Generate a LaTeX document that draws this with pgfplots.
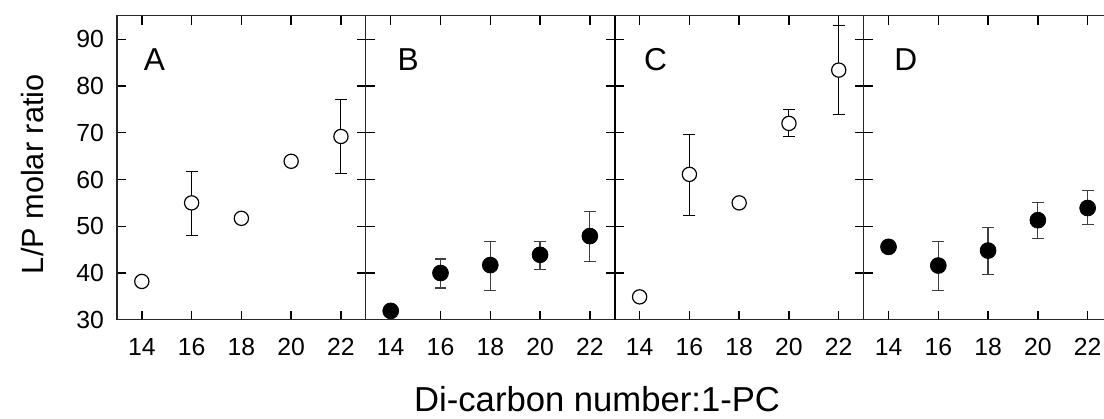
\documentclass[border=0pt]{standalone}
\usepackage{pgfplots}
\pgfplotsset{compat=1.18}
\usepackage{fontspec}
\setmainfont{Liberation Sans}
\begin{document}
\pgfplotsset{
  panel/.style={
    scale only axis, width=125.7pt, height=153.5pt,
    anchor=south west,
    xmin=13, xmax=23, ymin=30, ymax=95,
    xtick={14,16,18,20,22}, ytick={30,40,50,60,70,80,90},
    tick align=inside, major tick length=4.5pt,
    tick style={black, line width=0.7pt},
    axis line style={black!85, line width=0.6pt},
    /pgf/number format/assume math mode=true,
    tick label style={font=\fontsize{12.5}{14}\selectfont},
    xticklabel style={yshift=-5.7pt},
    yticklabel style={xshift=-3pt},
    clip=false,
  },
  openpts/.style={only marks, mark=*, mark size=3.6pt,
    mark options={fill=white, draw=black, line width=0.6pt},
    error bars/.cd, y dir=both, y explicit,
    error bar style={black, line width=0.5pt},
    error mark options={rotate=90, mark size=3pt, black, line width=0.5pt}},
  fillpts/.style={only marks, mark=*, mark size=4pt,
    mark options={fill=black, draw=black},
    error bars/.cd, y dir=both, y explicit,
    error bar style={black!75, line width=0.6pt},
    error mark options={rotate=90, mark size=3pt, black!75, line width=0.6pt}},
}
\newcommand{\panellabel}[2]{\node[anchor=base west, font=\fontsize{16}{18}\selectfont] at (rel axis cs:#1,0.821) {#2};}
\begin{tikzpicture}
\useasboundingbox (0,0) rectangle (552pt,211.5pt);
% Panel A
\begin{axis}[panel, at={(53.5pt,50pt)}]
\addplot+[openpts] coordinates {
(14,38.2) += (0,0) -= (0,0)
(16,55.0) += (0,6.7) -= (0,6.9)
(18,51.7) += (0,0) -= (0,0)
(20,63.9) += (0,0) -= (0,0)
(22,69.2) += (0,7.9) -= (0,7.9)
};
\panellabel{0.08}{A}
\end{axis}
% Panel B
\begin{axis}[panel, at={(179.2pt,50pt)}, yticklabels={}]
\addplot+[fillpts] coordinates {
(14,31.9) += (0,0) -= (0,0)
(16,40.0) += (0,3.0) -= (0,3.2)
(18,41.7) += (0,5.0) -= (0,5.4)
(20,43.9) += (0,2.8) -= (0,3.1)
(22,47.9) += (0,5.3) -= (0,5.4)
};
\panellabel{0.1}{B}
\end{axis}
% Panel C
\begin{axis}[panel, at={(304.9pt,50pt)}, yticklabels={}]
\addplot+[openpts] coordinates {
(14,34.9) += (0,0) -= (0,0)
(16,61.1) += (0,8.6) -= (0,8.9)
(18,55.0) += (0,0) -= (0,0)
(20,72.0) += (0,2.9) -= (0,2.8)
(22,83.4) += (0,9.5) -= (0,9.6)
};
\draw[black, line width=1.1pt] (rel axis cs:0,0) -- (rel axis cs:0,1);
\panellabel{0.09}{C}
\end{axis}
% Panel D
\begin{axis}[panel, at={(430.6pt,50pt)}, yticklabels={}]
\addplot+[fillpts] coordinates {
(14,45.6) += (0,0) -= (0,0)
(16,41.6) += (0,5.1) -= (0,5.3)
(18,44.8) += (0,5.0) -= (0,5.2)
(20,51.3) += (0,3.8) -= (0,3.9)
(22,53.9) += (0,3.7) -= (0,3.6)
};
\panellabel{0.095}{D}
\end{axis}
\node[rotate=90, anchor=base, font=\fontsize{15.5}{18}\selectfont] at (16.5pt,123.5pt) {L/P molar ratio};
\node[anchor=base, inner sep=0pt, font=\fontsize{17.5}{20}\selectfont] at (296pt,3.8pt) {Di-carbon number:1-PC};
\end{tikzpicture}
\end{document}
